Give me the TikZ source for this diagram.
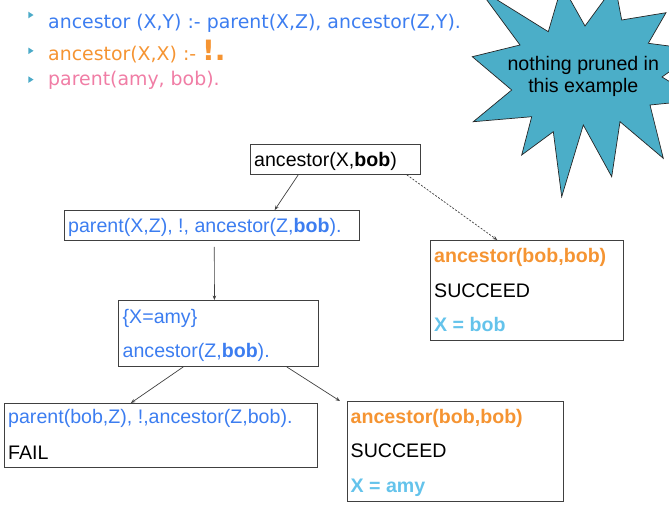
\documentclass[tikz,border=0pt]{standalone}
\usepackage{fontspec}
\setmainfont{Liberation Sans}
\newfontfamily\dvs{DejaVu Sans}
\usetikzlibrary{arrows.meta,calc}
\definecolor{tblue}{RGB}{60,125,240}
\definecolor{torange}{RGB}{245,148,50}
\definecolor{tpink}{RGB}{240,125,165}
\definecolor{tlight}{RGB}{100,195,235}
\definecolor{bullet}{RGB}{75,170,200}
\definecolor{starblue}{RGB}{75,174,200}
\definecolor{boxgray}{RGB}{64,64,64}
\begin{document}
\begin{tikzpicture}[x=1pt,y=-1pt,
  box/.style={draw=boxgray, line width=0.9pt, inner sep=0pt, anchor=north west},
  txt/.style={anchor=base west, inner sep=0pt, font=\fontsize{19.6}{22}\selectfont},
  top/.style={anchor=base west, inner sep=0pt, font=\dvs\fontsize{18.9}{22}\selectfont},
  conn/.style={draw=boxgray, line width=0.7pt, -{Stealth[length=4.5pt,width=3.5pt]}},
  bul/.style={fill=bullet, draw=none}
]
\useasboundingbox (0,0) rectangle (669,504);

% rules
\fill[bul] (28.3,11.7) -- (33.5,15) -- (28.3,18.3) -- cycle;
\fill[bul] (28.3,47.5) -- (33.5,50.8) -- (28.3,54.1) -- cycle;
\fill[bul] (28.3,76.3) -- (33.5,79.6) -- (28.3,82.9) -- cycle;
\node[top, text=tblue] (r1) at (48,28) {ancestor (X,Y) :- parent(X,Z), ancestor(Z,Y).};
\node[top, text=torange] (r2) at (48,60.5) {ancestor(X,X) :- {\bfseries\fontsize{28}{30}\selectfont !.}};
\node[top, text=tpink] (r3) at (48,85) {parent(amy, bob).};

% star
\begin{scope}
\clip (0,0) rectangle (669,504);
\filldraw[fill=starblue, draw=black!85, line width=0.7pt]
  (472.3,56.7) -- (511.7,90) -- (473.3,121.7) -- (531.7,116.7) -- (521.7,155)
  -- (553.3,131.7) -- (561.7,196.7) -- (583.3,125) -- (611.7,176.7) -- (620,121.7)
  -- (663.3,158.3) -- (650,105) -- (700,100) -- (662,77) -- (700,50)
  -- (648.3,43.3) -- (666,12.7) -- (621.7,20) -- (615,-15) -- (585,26)
  -- (562,-15) -- (548.3,31.7) -- (478,-12) -- (520,45) -- cycle;
\end{scope}
\node[anchor=base, inner sep=0pt, font=\fontsize{19.6}{22}\selectfont] (s1) at (583.3,70) {nothing pruned in};
\node[anchor=base, inner sep=0pt, font=\fontsize{19.6}{22}\selectfont] (s2) at (583.3,92) {this example};

% boxes
\node[box, minimum width=170pt, minimum height=30pt] (b1) at (250,144) {};
\node[box, minimum width=295pt, minimum height=30pt] (b2) at (64,210) {};
\node[box, minimum width=193pt, minimum height=100pt] (b3) at (430,240) {};
\node[box, minimum width=200pt, minimum height=66pt] (b4) at (118,300) {};
\node[box, minimum width=313pt, minimum height=64pt] (b5) at (4,403) {};
\node[box, minimum width=216pt, minimum height=100pt] (b6) at (347,401) {};

% texts
\node[txt] (t1) at (254,166) {ancestor(X,\textbf{bob})};
\node[txt, text=tblue] (t2) at (68,232) {parent(X,Z), !, ancestor(Z,\textbf{bob}).};
\node[txt, text=torange] (t3a) at (434,262) {\textbf{ancestor(bob,bob)}};
\node[txt] (t3b) at (434,297) {SUCCEED};
\node[txt, text=tlight] (t3c) at (434,331) {\textbf{X = bob}};
\node[txt, text=tblue] (t4a) at (122.5,323) {\{X=amy\}};
\node[txt, text=tblue] (t4b) at (122.5,357) {ancestor(Z,\textbf{bob}).};
\node[txt, text=tblue] (t5a) at (8,423) {parent(bob,Z), !,ancestor(Z,bob).};
\node[txt] (t5b) at (8,459) {FAIL};
\node[txt, text=torange] (t6a) at (350.5,423) {\textbf{ancestor(bob,bob)}};
\node[txt] (t6b) at (350.5,457) {SUCCEED};
\node[txt, text=tlight] (t6c) at (350.5,492) {\textbf{X = amy}};

% connectors
\coordinate (e6) at ($(b6.north west)+(-7,0)$);
\draw[conn] ($(b1.south west)!0.282!(b1.south east)$) -- ($(b2.north west)!0.712!(b2.north east)$);
\draw[conn, dash pattern=on 2pt off 1.5pt] ($(b1.south west)!0.918!(b1.south east)$) -- ($(b3.north west)!0.347!(b3.north east)$);
\draw[conn] ($(b2.south west)!0.508!(b2.south east)+(0,6)$) -- ($(b4.north west)!0.48!(b4.north east)$);
\draw[conn] ($(b4.south west)!0.325!(b4.south east)$) -- ($(b5.north west)!0.404!(b5.north east)$);
\draw[conn] ($(b4.south west)!0.84!(b4.south east)$) -- (e6);
\end{tikzpicture}
\end{document}
